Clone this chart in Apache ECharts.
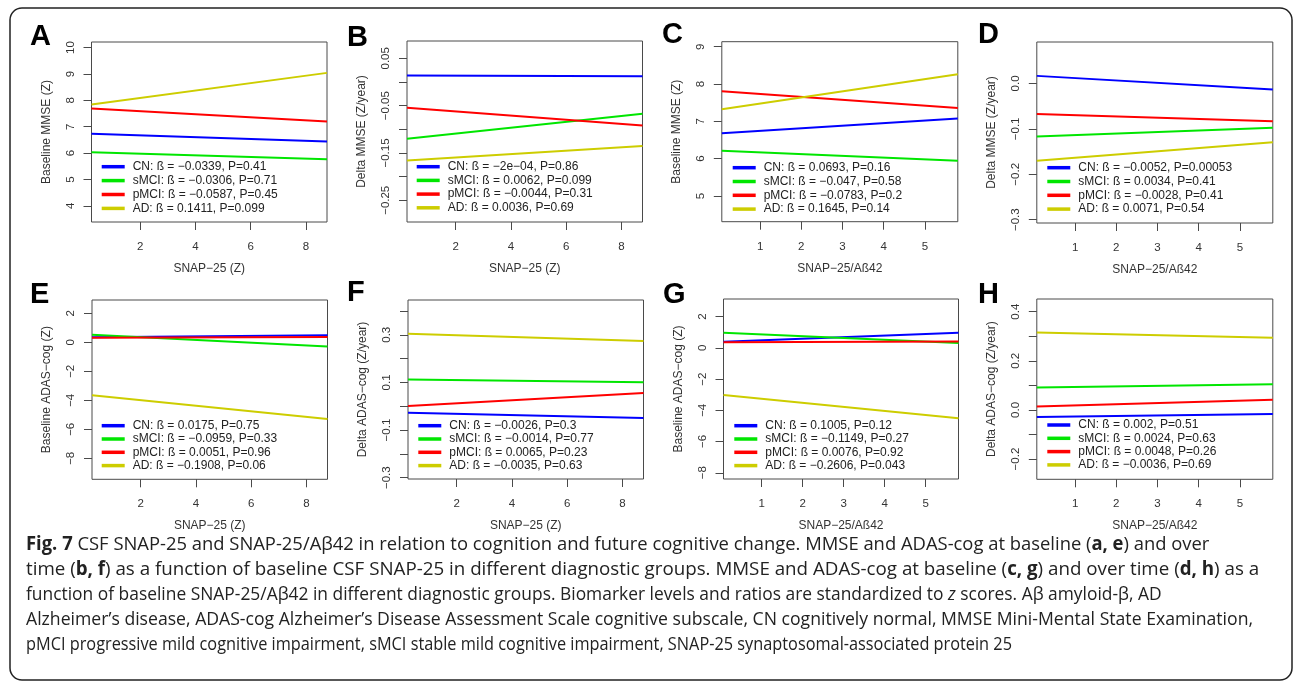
<!DOCTYPE html>
<html>
<head>
<meta charset="utf-8">
<script src="https://cdn.jsdelivr.net/npm/echarts@6/dist/echarts.min.js"></script>
<style>
  html, body { margin: 0; padding: 0; background: #fff; }
  #chart { width: 1295px; height: 683px; }
</style>
</head>
<body>
<div id="chart"></div>
<script>
// ---- data -------------------------------------------------------------
const groups = ['CN', 'sMCI', 'pMCI', 'AD'];

// x extent covered by the fitted lines
const snapRange  = [0.24, 8.76];   // SNAP-25 (Z)
const ratioRange = [0.07, 5.80];   // SNAP-25/Aß42

// regression slopes (ß), p-values and intercepts per panel
const betaA = ['-0.0339', '-0.0306', '-0.0587', '0.1411'];
const pA    = ['0.41', '0.71', '0.45', '0.099'];
const intA  = [6.738, 6.037, 7.708, 7.804];

const betaB = ['-2e-04', '0.0062', '-0.0044', '0.0036'];
const pB    = ['0.86', '0.099', '0.31', '0.69'];
const intB  = [0.014, -0.1217, -0.0532, -0.1667];

const betaC = ['0.0693', '-0.047', '-0.0783', '0.1645'];
const pC    = ['0.16', '0.58', '0.2', '0.14'];
const intC  = [6.674, 6.215, 7.814, 7.31];

const betaD = ['-0.0052', '0.0034', '-0.0028', '0.0071'];
const pD    = ['0.00053', '0.41', '0.41', '0.54'];
const intD  = [0.017, -0.1172, -0.0671, -0.1709];

const betaE = ['0.0175', '-0.0959', '0.0051', '-0.1908'];
const pE    = ['0.75', '0.33', '0.96', '0.06'];
const intE  = [0.34, 0.55, 0.32, -3.613];

const betaF = ['-0.0026', '-0.0014', '0.0065', '-0.0035'];
const pF    = ['0.3', '0.77', '0.23', '0.63'];
const intF  = [-0.0267, 0.113, -0.001, 0.305];

const betaG = ['0.1005', '-0.1149', '0.0076', '-0.2606'];
const pG    = ['0.12', '0.27', '0.92', '0.043'];
const intG  = [0.381, 0.975, 0.366, -2.995];

const betaH = ['0.002', '0.0024', '0.0048', '-0.0036'];
const pH    = ['0.51', '0.63', '0.26', '0.69'];
const intH  = [-0.0287, 0.091, 0.0132, 0.315];

// axis ticks (all tick marks, and the ones that carry a label)
const xTicksSnap  = [2, 4, 6, 8];
const xTicksRatio = [1, 2, 3, 4, 5];
const yTicksA = [4, 5, 6, 7, 8, 9, 10];
const yTicksB = [-0.25, -0.2, -0.15, -0.1, -0.05, 0, 0.05];
const yLabelsB = [-0.25, -0.15, -0.05, 0.05];
const yTicksC = [5, 6, 7, 8, 9];
const yTicksD = [-0.3, -0.2, -0.1, 0];
const yTicksE = [-8, -6, -4, -2, 0, 2];
const yTicksF = [-0.3, -0.2, -0.1, 0, 0.1, 0.2, 0.3, 0.4];
const yLabelsF = [-0.3, -0.1, 0.1, 0.3];
const yTicksG = [-8, -6, -4, -2, 0, 2];
const yTicksH = [-0.2, -0.1, 0, 0.1, 0.2, 0.3, 0.4];
const yLabelsH = [-0.2, 0, 0.2, 0.4];

// axis titles
const xTitleSnap  = 'SNAP\u221225 (Z)';
const xTitleRatio = 'SNAP\u221225/A\u00df42';
const yTitleBaseMMSE  = 'Baseline MMSE (Z)';
const yTitleDeltaMMSE = 'Delta MMSE (Z/year)';
const yTitleBaseADAS  = 'Baseline ADAS\u2212cog (Z)';
const yTitleDeltaADAS = 'Delta ADAS\u2212cog (Z/year)';

const caption = [
  '{b|Fig. 7} CSF SNAP-25 and SNAP-25/A\u03b242 in relation to cognition and future cognitive change. MMSE and ADAS-cog at baseline ({b|a, e}) and over',
  'time ({b|b, f}) as a function of baseline CSF SNAP-25 in different diagnostic groups. MMSE and ADAS-cog at baseline ({b|c, g}) and over time ({b|d, h}) as a',
  'function of baseline SNAP-25/A\u03b242 in different diagnostic groups. Biomarker levels and ratios are standardized to {i|z} scores. A\u03b2 amyloid-\u03b2, AD',
  'Alzheimer\u2019s disease, ADAS-cog Alzheimer\u2019s Disease Assessment Scale cognitive subscale, CN cognitively normal, MMSE Mini-Mental State Examination,',
  'pMCI progressive mild cognitive impairment, sMCI stable mild cognitive impairment, SNAP-25 synaptosomal-associated protein 25'
];

// ---- panel definitions -------------------------------------------------
const panels = [
  { tag: 'A', xr: snapRange,  xt: xTicksSnap,  xName: xTitleSnap,  yName: yTitleBaseMMSE,  yr: [3.39, 10.21],    yt: yTicksA, yl: yTicksA,  beta: betaA, p: pA, icpt: intA },
  { tag: 'B', xr: snapRange,  xt: xTicksSnap,  xName: xTitleSnap,  yName: yTitleDeltaMMSE, yr: [-0.2959, 0.0866], yt: yTicksB, yl: yLabelsB, beta: betaB, p: pB, icpt: intB },
  { tag: 'C', xr: ratioRange, xt: xTicksRatio, xName: xTitleRatio, yName: yTitleBaseMMSE,  yr: [4.311, 9.134],   yt: yTicksC, yl: yTicksC,  beta: betaC, p: pC, icpt: intC },
  { tag: 'D', xr: ratioRange, xt: xTicksRatio, xName: xTitleRatio, yName: yTitleDeltaMMSE, yr: [-0.3072, 0.0912], yt: yTicksD, yl: yTicksD,  beta: betaD, p: pD, icpt: intD },
  { tag: 'E', xr: snapRange,  xt: xTicksSnap,  xName: xTitleSnap,  yName: yTitleBaseADAS,  yr: [-9.448, 2.917],  yt: yTicksE, yl: yTicksE,  beta: betaE, p: pE, icpt: intE },
  { tag: 'F', xr: snapRange,  xt: xTicksSnap,  xName: xTitleSnap,  yName: yTitleDeltaADAS, yr: [-0.3055, 0.446],  yt: yTicksF, yl: yLabelsF, beta: betaF, p: pF, icpt: intF },
  { tag: 'G', xr: ratioRange, xt: xTicksRatio, xName: xTitleRatio, yName: yTitleBaseADAS,  yr: [-8.40, 3.13],    yt: yTicksG, yl: yTicksG,  beta: betaG, p: pG, icpt: intG },
  { tag: 'H', xr: ratioRange, xt: xTicksRatio, xName: xTitleRatio, yName: yTitleDeltaADAS, yr: [-0.2825, 0.4516], yt: yTicksH, yl: yLabelsH, beta: betaH, p: pH, icpt: intH }
];

// ---- layout & style ----------------------------------------------------
const FONT = '"Liberation Sans", Arial, sans-serif';
const CAPFONT = '"Open Sans", "Noto Sans", sans-serif';
const lineColors = ['#0000ff', '#00e600', '#ff0000', '#cdcd00'];
const boxColor = '#4a4a4a';

// plot boxes [left, top, width, height]
const boxes = [
  [91.5, 42,  235.5, 180], [407,  41,  235.5, 181], [721.8, 41.7, 236, 180], [1036.8, 42, 236, 181],
  [92,   300, 235.5, 179.3], [408, 300, 235.5, 179], [723.5, 299, 235, 180], [1036.8, 299, 236, 180.3]
];
// legend anchor [x of line sample, y of first row centre, row step]
const legends = [
  [101.7, 166.7, 13.9], [416.7, 166.7, 13.7], [732.7, 167.7, 13.8], [1047.3, 167.7, 13.8],
  [101.7, 425.7, 13.3], [418.3, 425.7, 13.3], [734.3, 425.7, 13.3], [1047.3, 425.0, 13.3]
];
// panel letter centres
const tags = [
  [30, 37], [347, 38], [662, 35], [978, 35],
  [30, 295], [347, 293], [663, 295], [978, 295]
];
// caption: left edge, first baseline row centre, row step, and the width each row fills
const capX = 26, capY = 545, capStep = 25, capSize = 19;
const capWidths = [1179, 1228, 1136, 1227, 986];

const minus = s => String(s).replace(/-/g, '\u2212');
const decimals = arr => Math.max(...arr.map(v => {
  const s = String(v); const i = s.indexOf('.'); return i < 0 ? 0 : s.length - i - 1;
}));

const grid = [], xAxis = [], yAxis = [], series = [], legend = [], graphic = [];

panels.forEach((pn, i) => {
  const [gl, gt, gw, gh] = boxes[i];
  grid.push({ left: gl, top: gt, width: gw, height: gh, show: true,
              borderColor: boxColor, borderWidth: 1, backgroundColor: 'transparent' });

  xAxis.push({
    type: 'value', gridIndex: i, min: pn.xr[0], max: pn.xr[1],
    axisLine: { show: false, onZero: false }, splitLine: { show: false },
    axisTick: { show: true, length: 8, customValues: pn.xt, lineStyle: { color: boxColor, width: 1 } },
    axisLabel: { customValues: pn.xt, margin: 19, fontSize: 11.5, color: '#333', fontFamily: FONT },
    name: pn.xName, nameLocation: 'middle', nameGap: 40.5,
    nameTextStyle: { fontSize: 12, color: '#333', fontFamily: FONT }
  });

  const dec = decimals(pn.yl);
  yAxis.push({
    type: 'value', gridIndex: i, min: pn.yr[0], max: pn.yr[1],
    axisLine: { show: false, onZero: false }, splitLine: { show: false },
    axisTick: { show: true, length: 8, customValues: pn.yt, lineStyle: { color: boxColor, width: 1 } },
    axisLabel: { customValues: pn.yl, rotate: 90, margin: 15, fontSize: 11.5, color: '#333', fontFamily: FONT,
                 formatter: v => minus(Number(v).toFixed(dec)) },
    name: pn.yName, nameLocation: 'middle', nameGap: 39,
    nameTextStyle: { fontSize: 12, color: '#333', fontFamily: FONT }
  });

  const names = [];
  groups.forEach((g, k) => {
    const slope = Number(pn.beta[k]);
    const a = pn.icpt[k];
    const name = g + ': \u00df = ' + minus(pn.beta[k]) + ', P=' + pn.p[k];
    names.push(name);
    series.push({
      type: 'line', name, xAxisIndex: i, yAxisIndex: i,
      data: [[pn.xr[0], a + slope * pn.xr[0]], [pn.xr[1], a + slope * pn.xr[1]]],
      symbol: 'none', silent: true, animation: false,
      lineStyle: { width: 2, color: lineColors[k] }, itemStyle: { color: lineColors[k] }
    });
  });

  const [lx, ly, step] = legends[i];
  legend.push({
    data: names, orient: 'vertical', left: lx, top: ly - step / 2, padding: 0,
    icon: 'rect', itemWidth: 23, itemHeight: 3.5, itemGap: 0, selectedMode: false,
    textStyle: { fontSize: 12, fontFamily: FONT, color: '#222', lineHeight: step, padding: [0, 0, 0, 3] }
  });

  graphic.push({
    type: 'text', x: tags[i][0], y: tags[i][1], silent: true,
    style: { text: pn.tag, font: 'bold 29px ' + FONT, fill: '#000', verticalAlign: 'middle' }
  });
});

// caption rows, each compressed horizontally to its own width
const ctx = document.createElement('canvas').getContext('2d');
caption.forEach((line, j) => {
  const plain = line.replace(/\{\w\|([^}]*)\}/g, '$1');
  ctx.font = capSize + 'px ' + CAPFONT;
  const scale = capWidths[j] / ctx.measureText(plain).width;
  graphic.push({
    type: 'text', x: capX, y: capY + j * capStep, scaleX: scale, silent: true,
    style: {
      text: line, fontSize: capSize, fontFamily: CAPFONT, fill: '#222', verticalAlign: 'middle',
      rich: {
        b: { fontSize: capSize, fontFamily: CAPFONT, fontWeight: 'bold', fill: '#222' },
        i: { fontSize: capSize, fontFamily: CAPFONT, fontStyle: 'italic', fill: '#222' }
      }
    }
  });
});

// rounded frame around the figure
graphic.push({
  type: 'rect', silent: true, z: -1,
  shape: { x: 10, y: 8, width: 1282, height: 672, r: 12 },
  style: { fill: 'none', stroke: '#222', lineWidth: 1.5 }
});

const chart = echarts.init(document.getElementById('chart'), null, { renderer: 'canvas' });
chart.setOption({ animation: false, backgroundColor: '#fff', grid, xAxis, yAxis, series, legend, graphic });
</script>
</body>
</html>
